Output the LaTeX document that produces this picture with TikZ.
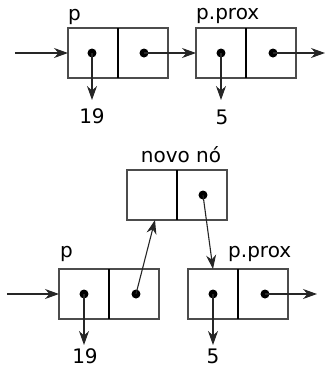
\documentclass[tikz,border=0pt]{standalone}
\usepackage{fontspec}
\setmainfont{DejaVu Sans}
\usetikzlibrary{arrows.meta}
\begin{document}
\begin{tikzpicture}[x=1pt,y=-1pt,
  cell/.style={draw=black!70,line width=1.2pt,minimum width=50pt,minimum height=50pt,inner sep=0pt,outer sep=0pt},
  sep/.style={draw=black,line width=1.6pt},
  dot/.style={circle,fill=black,inner sep=0pt,minimum size=9pt},
  ptr/.style={draw=black!85,line width=1.1pt,-{Stealth[length=14pt,width=10pt,inset=4.5pt]}},
  lbl/.style={inner sep=0pt,font=\fontsize{20}{24}\selectfont},
  val/.style={lbl,anchor=base,text depth=0pt}]
\useasboundingbox (0,0) rectangle (325,368);

% top row: p and p.prox
\node[cell] (a1) at (93,53) {};
\node[cell] (a2) at (143,53) {};
\node[cell] (b1) at (221,53) {};
\node[cell] (b2) at (271,53) {};
\draw[sep] (a1.north east) -- (a1.south east);
\draw[sep] (b1.north east) -- (b1.south east);
\node[dot] (da1) at (92,53) {};
\node[dot] (da2) at (144,53) {};
\node[dot] (db1) at (221,53) {};
\node[dot] (db2) at (273,53) {};
\node[lbl,anchor=base west] (lp) at (68,20) {p};
\node[lbl,anchor=base west] (lq) at (196,19) {p.prox};
\coordinate (inA) at (15,53);
\coordinate (outB) at (325,53);
\coordinate (va) at (92,100);
\coordinate (vb) at (221,100);
\draw[ptr] (inA) -- (a1.west);
\draw[ptr] (da2.center) -- (b1.west);
\draw[ptr] (db2.center) -- (outB);
\draw[ptr] (da1.center) -- (va);
\draw[ptr] (db1.center) -- (vb);
\node[val] (n19a) at (92,123) {19};
\node[val] (n5a) at (222,124) {5};

% bottom row: new node inserted between p and p.prox
\node[cell] (n1) at (152,195) {};
\node[cell] (n2) at (202,195) {};
\node[cell] (c1) at (84,294) {};
\node[cell] (c2) at (134,294) {};
\node[cell] (e1) at (213,294) {};
\node[cell] (e2) at (263,294) {};
\draw[sep] (n1.north east) -- (n1.south east);
\draw[sep] (c1.north east) -- (c1.south east);
\draw[sep] (e1.north east) -- (e1.south east);
\node[dot] (dn2) at (203,195) {};
\node[dot] (dc1) at (84,294) {};
\node[dot] (dc2) at (136,294) {};
\node[dot] (de1) at (213,294) {};
\node[dot] (de2) at (265,294) {};
\node[lbl,anchor=base] (ln) at (181,162) {novo nó};
\node[lbl,anchor=base west] (lp2) at (60,257) {p};
\node[lbl,anchor=base west] (lq2) at (228,257) {p.prox};
\coordinate (inC) at (7,294);
\coordinate (outE) at (317,294);
\coordinate (vc) at (84,345);
\coordinate (ve) at (213,345);
\draw[ptr] (inC) -- (c1.west);
\draw[ptr] (dc2.center) -- ([xshift=3pt]n1.south);
\draw[ptr] (dn2.center) -- (e1.north);
\draw[ptr] (de2.center) -- (outE);
\draw[ptr] (dc1.center) -- (vc);
\draw[ptr] (de1.center) -- (ve);
\node[val] (n19b) at (85,363) {19};
\node[val] (n5b) at (213,363) {5};
\end{tikzpicture}
\end{document}
